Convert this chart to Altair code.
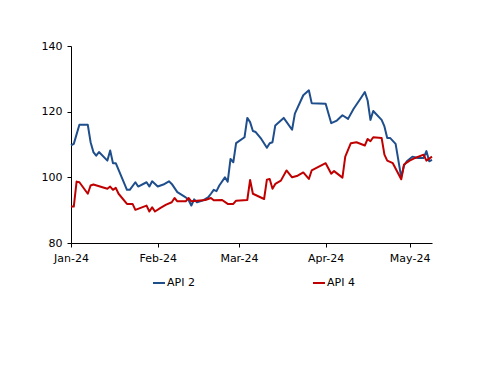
import altair as alt
import pandas as pd

api2_dates = [
    "2024-01-01", "2024-01-02", "2024-01-04", "2024-01-07", "2024-01-08", "2024-01-09",
    "2024-01-10", "2024-01-11", "2024-01-14", "2024-01-15", "2024-01-16", "2024-01-17",
    "2024-01-21", "2024-01-22", "2024-01-24", "2024-01-25", "2024-01-28", "2024-01-29",
    "2024-01-30", "2024-02-01", "2024-02-03", "2024-02-05", "2024-02-06", "2024-02-08",
    "2024-02-11", "2024-02-12", "2024-02-13", "2024-02-14", "2024-02-15", "2024-02-17",
    "2024-02-19", "2024-02-20", "2024-02-21", "2024-02-22", "2024-02-23", "2024-02-25",
    "2024-02-26", "2024-02-27", "2024-02-28", "2024-02-29", "2024-03-03", "2024-03-04",
    "2024-03-05", "2024-03-06", "2024-03-07", "2024-03-09", "2024-03-11", "2024-03-12",
    "2024-03-13", "2024-03-14", "2024-03-17", "2024-03-20", "2024-03-21", "2024-03-24",
    "2024-03-26", "2024-03-27", "2024-04-01", "2024-04-03", "2024-04-05", "2024-04-07",
    "2024-04-09", "2024-04-11", "2024-04-13", "2024-04-15", "2024-04-16", "2024-04-17",
    "2024-04-18", "2024-04-21", "2024-04-22", "2024-04-23", "2024-04-24", "2024-04-26",
    "2024-04-28", "2024-04-29", "2024-04-30", "2024-05-02", "2024-05-04", "2024-05-06",
    "2024-05-07", "2024-05-08", "2024-05-09",
]
api2_values = [
    109.7, 110.2, 116.0, 116.0, 110.7, 107.7,
    106.6, 107.7, 105.1, 108.2, 104.3, 104.3,
    96.2, 96.2, 98.5, 97.2, 98.5, 97.2,
    98.8, 97.2, 97.8, 98.8, 98.0, 95.5,
    93.9, 93.1, 91.4, 93.3, 92.4, 92.9,
    93.9, 95.0, 96.2, 95.8, 97.5, 100.0,
    98.7, 105.6, 104.6, 110.4, 112.2, 118.1,
    116.8, 114.1, 113.8, 111.7, 109.0, 110.4,
    110.7, 115.8, 118.1, 114.5, 119.4, 125.0,
    126.5, 122.6, 122.4, 116.5, 117.3, 118.9,
    117.8, 120.9, 123.4, 126.0, 123.4, 117.5,
    120.2, 117.5, 115.5, 112.0, 112.0, 110.2,
    100.0, 103.6, 104.9, 106.3, 105.9, 105.9,
    108.0, 104.9, 105.3,
]

api4_dates = [
    "2024-01-01", "2024-01-02", "2024-01-03", "2024-01-04", "2024-01-07", "2024-01-08",
    "2024-01-09", "2024-01-14", "2024-01-15", "2024-01-16", "2024-01-17", "2024-01-18",
    "2024-01-21", "2024-01-23", "2024-01-24", "2024-01-28", "2024-01-29", "2024-01-30",
    "2024-01-31", "2024-02-02", "2024-02-04", "2024-02-06", "2024-02-07", "2024-02-08",
    "2024-02-11", "2024-02-12", "2024-02-13", "2024-02-18", "2024-02-20", "2024-02-21",
    "2024-02-24", "2024-02-26", "2024-02-28", "2024-02-29", "2024-03-04", "2024-03-05",
    "2024-03-06", "2024-03-10", "2024-03-11", "2024-03-12", "2024-03-13", "2024-03-14",
    "2024-03-16", "2024-03-18", "2024-03-20", "2024-03-22", "2024-03-24", "2024-03-26",
    "2024-03-27", "2024-04-01", "2024-04-03", "2024-04-04", "2024-04-07", "2024-04-08",
    "2024-04-10", "2024-04-12", "2024-04-15", "2024-04-16", "2024-04-17", "2024-04-18",
    "2024-04-21", "2024-04-22", "2024-04-23", "2024-04-25", "2024-04-28", "2024-04-29",
    "2024-05-01", "2024-05-03", "2024-05-06", "2024-05-07", "2024-05-09",
]
api4_values = [
    91.1, 91.1, 98.7, 98.5, 95.0, 97.5,
    97.8, 96.5, 97.2, 96.2, 96.8, 95.0,
    91.9, 91.9, 90.1, 91.4, 89.6, 90.9,
    89.6, 90.7, 91.7, 92.4, 93.7, 92.7,
    92.7, 93.7, 92.7, 93.1, 93.7, 93.0,
    93.1, 91.9, 91.9, 92.9, 93.1, 99.2,
    95.0, 93.4, 99.3, 99.5, 96.5, 98.0,
    99.0, 102.1, 100.0, 100.5, 101.5, 99.5,
    102.1, 104.3, 101.1, 101.9, 99.9, 106.3,
    110.4, 110.7, 109.7, 111.7, 111.0, 112.2,
    112.0, 106.9, 105.1, 104.3, 99.4, 103.9,
    105.1, 105.9, 106.9, 105.1, 106.3,
]

series_names = ["API 2", "API 4"]
series_colors = ["#1F4E8C", "#C00000"]
y_ticks = [80, 100, 120, 140]

df = pd.concat([
    pd.DataFrame({"date": api2_dates, "value": api2_values, "series": series_names[0]}),
    pd.DataFrame({"date": api4_dates, "value": api4_values, "series": series_names[1]}),
])

FONT = "DejaVu Sans"

month_ticks = [alt.DateTime(year=2024, month=m, date=1, utc=True) for m in [1, 2, 3, 4, 5]]

chart = alt.Chart(df).mark_line(strokeWidth=2, strokeJoin="round").encode(
    x=alt.X(
        "date:T",
        scale=alt.Scale(
            type="utc",
            domain=[alt.DateTime(year=2024, month=1, date=1, utc=True),
                    alt.DateTime(year=2024, month=5, date=9, utc=True)],
        ),
        axis=alt.Axis(
            title=None, labelExpr="utcFormat(datum.value, '%b-%y')", values=month_ticks,
            grid=False, tickSize=4, labelPadding=5, labelFlush=False, domainColor="black",
            tickColor="black", labelColor="black", labelFont=FONT, labelFontSize=11,
        ),
    ),
    y=alt.Y(
        "value:Q",
        scale=alt.Scale(domain=[80, 140], nice=False, zero=False),
        axis=alt.Axis(
            title=None, values=y_ticks, grid=False, tickSize=4, labelPadding=5,
            labelFlush=False, domainColor="black", tickColor="black", labelColor="black",
            labelFont=FONT, labelFontSize=11,
        ),
    ),
    color=alt.Color(
        "series:N",
        scale=alt.Scale(domain=series_names, range=series_colors),
        legend=alt.Legend(
            title=None, orient="none", legendX=81, legendY=230, direction="horizontal",
            symbolType="stroke", symbolSize=144, symbolStrokeWidth=2,
            labelFont=FONT, labelFontSize=11, labelColor="black", labelOffset=1,
            columnPadding=114,
        ),
    ),
).properties(
    width=361,
    height=197,
    autosize=alt.AutoSizeParams(type="none"),
    padding={"left": 63, "top": 38, "right": 60, "bottom": 100},
).configure_view(stroke=None)

chart.save("out.html", embed_options={"renderer": "svg", "actions": False})
